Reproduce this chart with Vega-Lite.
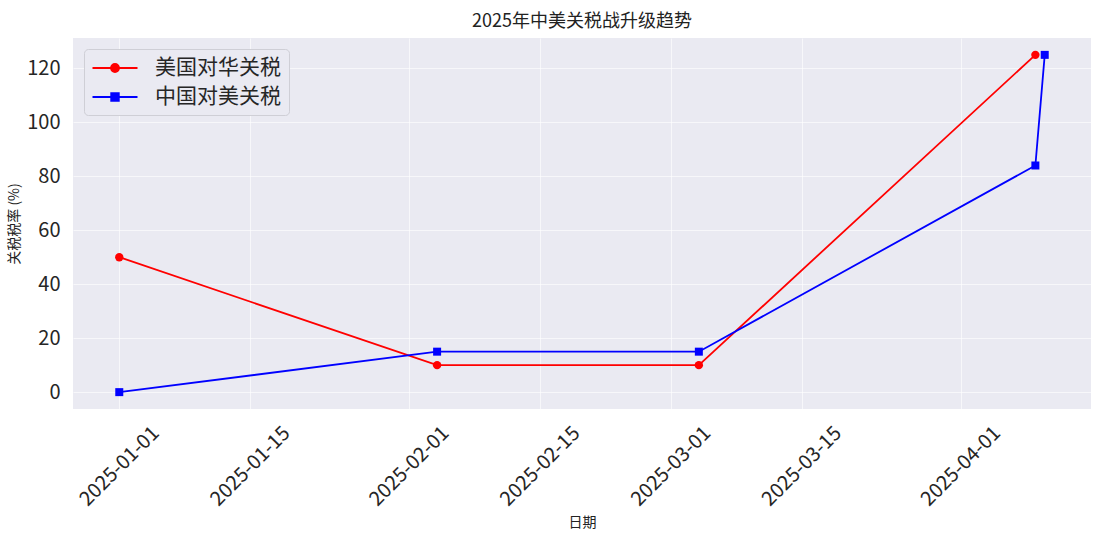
{
  "$schema": "https://vega.github.io/schema/vega-lite/v6.json",
  "width": 1018,
  "height": 371,
  "autosize": {"type": "none"},
  "padding": {"left": 73, "top": 38, "right": 16, "bottom": 131},
  "background": "#ffffff",
  "config": {
    "font": "Noto Sans CJK SC",
    "view": {"fill": "#eaeaf2", "stroke": null}
  },
  "title": {
    "text": "2025年中美关税战升级趋势",
    "fontSize": 18,
    "fontWeight": "normal",
    "color": "#222222",
    "anchor": "middle",
    "offset": 7
  },
  "data": {
    "values": [
      {"date": "2025-01-01", "rate": 50, "series": "美国对华关税"},
      {"date": "2025-02-04", "rate": 10, "series": "美国对华关税"},
      {"date": "2025-03-04", "rate": 10, "series": "美国对华关税"},
      {"date": "2025-04-09", "rate": 125, "series": "美国对华关税"},
      {"date": "2025-01-01", "rate": 0, "series": "中国对美关税"},
      {"date": "2025-02-04", "rate": 15, "series": "中国对美关税"},
      {"date": "2025-03-04", "rate": 15, "series": "中国对美关税"},
      {"date": "2025-04-09", "rate": 84, "series": "中国对美关税"},
      {"date": "2025-04-10", "rate": 125, "series": "中国对美关税"}
    ]
  },
  "encoding": {
    "x": {
      "field": "date",
      "type": "temporal",
      "title": "日期",
      "scale": {
        "type": "utc",
        "nice": false,
        "domain": [
          {"year": 2024, "month": 12, "date": 27, "hours": 1, "minutes": 12, "utc": true},
          {"year": 2025, "month": 4, "date": 14, "hours": 22, "minutes": 48, "utc": true}
        ]
      },
      "axis": {
        "values": [
          {"year": 2025, "month": 1, "date": 1, "utc": true},
          {"year": 2025, "month": 1, "date": 15, "utc": true},
          {"year": 2025, "month": 2, "date": 1, "utc": true},
          {"year": 2025, "month": 2, "date": 15, "utc": true},
          {"year": 2025, "month": 3, "date": 1, "utc": true},
          {"year": 2025, "month": 3, "date": 15, "utc": true},
          {"year": 2025, "month": 4, "date": 1, "utc": true}
        ],
        "labelExpr": "utcFormat(datum.value, '%Y-%m-%d')",
        "labelAngle": -45,
        "labelAlign": "center",
        "labelBaseline": "middle",
        "labelPadding": 57,
        "labelFontSize": 20,
        "labelColor": "#262626",
        "labelOverlap": false,
        "labelFlush": false,
        "ticks": false,
        "tickSize": 0,
        "domain": false,
        "grid": true,
        "gridColor": "#ffffff",
        "gridOpacity": 0.6,
        "gridWidth": 1,
        "titleFontSize": 14,
        "titleFontWeight": "normal",
        "titleColor": "#222222",
        "titlePadding": 6
      }
    },
    "y": {
      "field": "rate",
      "type": "quantitative",
      "title": "关税税率 (%)",
      "scale": {"domain": [-6.25, 131.25], "nice": false, "zero": false},
      "axis": {
        "values": [0, 20, 40, 60, 80, 100, 120],
        "labelFontSize": 20,
        "labelColor": "#262626",
        "labelPadding": 13,
        "ticks": false,
        "tickSize": 0,
        "domain": false,
        "grid": true,
        "gridColor": "#ffffff",
        "gridOpacity": 0.6,
        "gridWidth": 1,
        "titleFontSize": 14,
        "titleFontWeight": "normal",
        "titleColor": "#222222",
        "titlePadding": 5
      }
    },
    "color": {
      "field": "series",
      "type": "nominal",
      "sort": ["美国对华关税", "中国对美关税"],
      "scale": {"domain": ["美国对华关税", "中国对美关税"], "range": ["#ff0000", "#0000ff"]},
      "legend": {
        "title": null,
        "orient": "top-left",
        "offset": 11,
        "padding": 8,
        "fillColor": "#eaeaf2",
        "strokeColor": "#cfcfd6",
        "cornerRadius": 4,
        "labelFontSize": 21,
        "labelColor": "#262626",
        "symbolSize": 400,
        "symbolOffset": 12,
        "labelOffset": 29,
        "rowPadding": 8,
        "symbolStrokeWidth": 1.8,
        "encode": {
          "symbols": {
            "update": {
              "shape": {"signal": "datum.value == '美国对华关税' ? 'M-2.25,0H2.25M-0.4,0A0.4,0.4 0 1 1 0.4,0A0.4,0.4 0 1 1 -0.4,0Z' : 'M-2.25,0H2.25M-0.38,-0.38H0.38V0.38H-0.38Z'"},
              "fill": {"signal": "datum.value == '美国对华关税' ? '#ff0000' : '#0000ff'"},
              "stroke": {"signal": "datum.value == '美国对华关税' ? '#ff0000' : '#0000ff'"},
              "strokeWidth": {"value": 1.8},
              "opacity": {"value": 1}
            }
          }
        }
      }
    }
  },
  "layer": [
    {
      "mark": {"type": "line", "strokeWidth": 1.8},
      "encoding": {
        "detail": {"field": "series"}
      }
    },
    {
      "transform": [{"filter": "datum.series == '美国对华关税'"}],
      "mark": {"type": "point", "filled": true, "shape": "circle", "size": 70, "opacity": 1}
    },
    {
      "transform": [{"filter": "datum.series == '中国对美关税'"}],
      "mark": {"type": "point", "filled": true, "shape": "square", "size": 64, "opacity": 1}
    }
  ]
}
